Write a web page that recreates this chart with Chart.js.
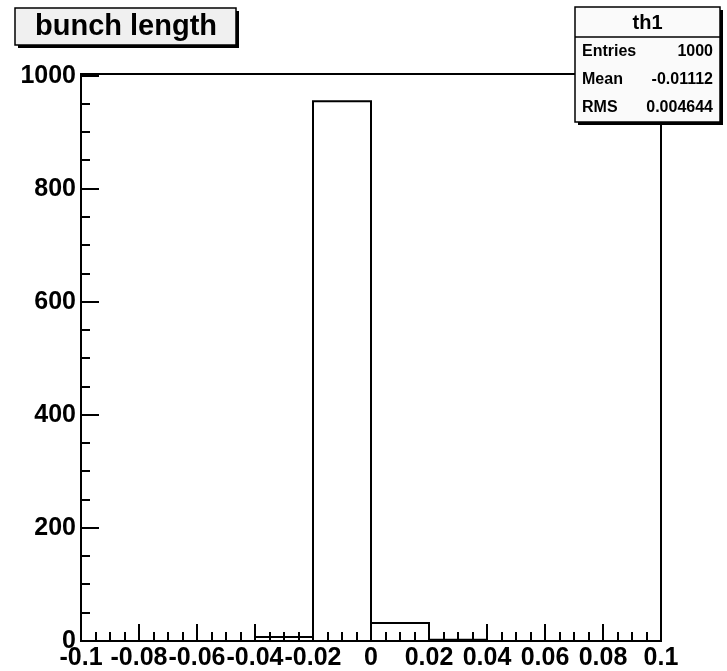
<!DOCTYPE html>
<html>
<head>
<meta charset="utf-8">
<title>bunch length</title>
<script src="https://cdn.jsdelivr.net/npm/chart.js@4/dist/chart.umd.min.js"></script>
<style>
  html, body { margin: 0; padding: 0; background: #fff; }
  #wrap { position: relative; width: 727px; height: 671px; }
</style>
</head>
<body>
<div id="wrap"><canvas id="histo"></canvas></div>
<script>
// histogram th1: 10 bins between -0.1 and 0.1
const binEdges = [-0.1, -0.08, -0.06, -0.04, -0.02, 0, 0.02, 0.04, 0.06, 0.08, 0.1];
const binCounts = [0, 0, 0, 7, 955, 32, 2, 0, 0, 0];
const xTickValues = [-0.1, -0.08, -0.06, -0.04, -0.02, 0, 0.02, 0.04, 0.06, 0.08, 0.1];
const yTickValues = [0, 200, 400, 600, 800, 1000];
const yMax = 1003;

const titleText = "bunch length";
const statsName = "th1";
const statsLabels = ["Entries", "Mean", "RMS"];
const statsValues = ["1000", "-0.01112", "0.004644"];

const FONT = '"Liberation Sans", Arial, Helvetica, sans-serif';

// outline points: left edge of every bin, then back to 0 at the last edge
const outline = binEdges.map((x, i) => ({
  x,
  y: i < binCounts.length ? binCounts[i] : 0,
}));

// frame + inward major/minor ticks, like a ROOT pad
const framePlugin = {
  id: "frame",
  afterDatasetsDraw(chart) {
    const { ctx, chartArea: a, scales } = chart;
    const xs = scales.x, ys = scales.y;
    ctx.save();
    ctx.strokeStyle = "#000";
    ctx.lineWidth = 2;
    ctx.strokeRect(a.left, a.top, a.right - a.left, a.bottom - a.top);

    ctx.beginPath();
    // x ticks
    const xStep = xTickValues[1] - xTickValues[0];
    xTickValues.forEach((v, i) => {
      const px = Math.round(xs.getPixelForValue(v));
      ctx.moveTo(px, a.bottom);
      ctx.lineTo(px, a.bottom - 17);
      if (i < xTickValues.length - 1) {
        for (let k = 1; k < 4; k++) {
          const mx = Math.round(xs.getPixelForValue(v + (xStep * k) / 4));
          ctx.moveTo(mx, a.bottom);
          ctx.lineTo(mx, a.bottom - 9);
        }
      }
    });
    // y ticks
    const yStep = yTickValues[1] - yTickValues[0];
    yTickValues.forEach((v, i) => {
      const py = Math.round(ys.getPixelForValue(v));
      ctx.moveTo(a.left, py);
      ctx.lineTo(a.left + 18, py);
      if (i < yTickValues.length - 1) {
        for (let k = 1; k < 4; k++) {
          const my = Math.round(ys.getPixelForValue(v + (yStep * k) / 4));
          ctx.moveTo(a.left, my);
          ctx.lineTo(a.left + 9, my);
        }
      }
    });
    ctx.stroke();
    ctx.restore();
  },
};

function shadowBox(ctx, x, y, w, h, fill) {
  ctx.fillStyle = "#000";
  ctx.fillRect(x + 3, y + 3, w, h);
  ctx.fillStyle = fill;
  ctx.fillRect(x, y, w, h);
  ctx.strokeStyle = "#000";
  ctx.lineWidth = 1.5;
  ctx.strokeRect(x, y, w, h);
}

// title pave and stats box
const pavePlugin = {
  id: "paves",
  afterDraw(chart) {
    const ctx = chart.ctx;
    ctx.save();

    shadowBox(ctx, 15, 8, 221, 37, "#f0f0f0");
    ctx.fillStyle = "#000";
    ctx.font = `bold 29px ${FONT}`;
    ctx.textAlign = "center";
    ctx.textBaseline = "middle";
    ctx.fillText(titleText, 126, 27);

    const bx = 575, by = 7, bw = 145, bh = 115;
    shadowBox(ctx, bx, by, bw, bh, "#fafafa");
    ctx.beginPath();
    ctx.moveTo(bx, by + 30);
    ctx.lineTo(bx + bw, by + 30);
    ctx.lineWidth = 1.5;
    ctx.stroke();

    ctx.fillStyle = "#000";
    ctx.font = `bold 20px ${FONT}`;
    ctx.textAlign = "center";
    ctx.fillText(statsName, bx + bw / 2, by + 16);

    ctx.font = `bold 16px ${FONT}`;
    statsLabels.forEach((lab, i) => {
      const ty = by + 45 + i * 28;
      ctx.textAlign = "left";
      ctx.fillText(lab, bx + 7, ty);
      ctx.textAlign = "right";
      ctx.fillText(statsValues[i], bx + bw - 7, ty);
    });
    ctx.restore();
  },
};

const tickFont = { family: FONT, size: 25, weight: "bold" };

new Chart(document.getElementById("histo").getContext("2d"), {
  type: "line",
  data: {
    datasets: [
      {
        data: outline,
        stepped: "before",
        borderColor: "#000",
        borderWidth: 2,
        pointRadius: 0,
        fill: false,
      },
    ],
  },
  options: {
    responsive: true,
    maintainAspectRatio: false,
    animation: false,
    layout: { padding: { top: 74, right: 66, left: 0, bottom: 0 } },
    plugins: { legend: { display: false }, tooltip: { enabled: false } },
    scales: {
      x: {
        type: "linear",
        min: -0.1,
        max: 0.1,
        grid: { display: false, drawTicks: false },
        border: { display: false },
        afterBuildTicks: (axis) => {
          axis.ticks = xTickValues.map((value) => ({ value }));
        },
        afterFit: (axis) => {
          axis.height = 30;
        },
        ticks: {
          color: "#000",
          font: tickFont,
          padding: 2,
          maxRotation: 0,
          autoSkip: false,
          callback: (v) => String(v),
        },
      },
      y: {
        type: "linear",
        min: 0,
        max: yMax,
        grid: { display: false, drawTicks: false },
        border: { display: false },
        afterBuildTicks: (axis) => {
          axis.ticks = yTickValues.map((value) => ({ value }));
        },
        afterFit: (axis) => {
          axis.width = 81;
        },
        ticks: {
          color: "#000",
          font: tickFont,
          padding: 5,
          autoSkip: false,
          callback: (v) => String(v),
        },
      },
    },
  },
  plugins: [framePlugin, pavePlugin],
});
</script>
</body>
</html>
